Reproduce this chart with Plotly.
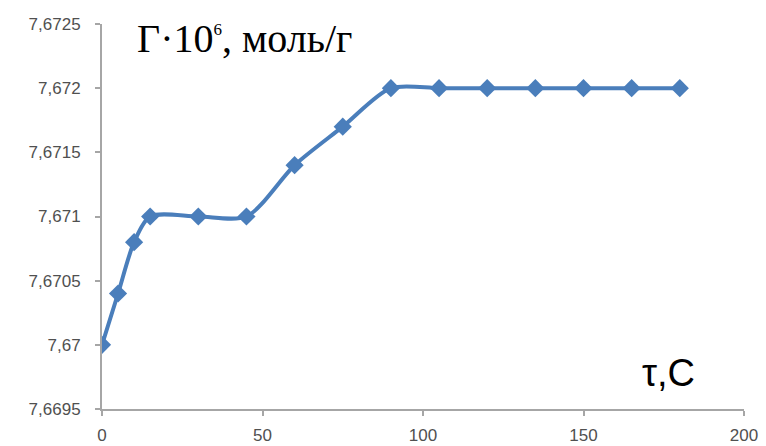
import plotly.graph_objects as go

time_s = [0, 5, 10, 15, 30, 45, 60, 75, 90, 105, 120, 135, 150, 165, 180]
gamma = [7.6700, 7.6704, 7.6708, 7.6710, 7.6710, 7.6710, 7.6714, 7.6717,
         7.6720, 7.6720, 7.6720, 7.6720, 7.6720, 7.6720, 7.6720]

y_tickvals = [7.6695, 7.6700, 7.6705, 7.6710, 7.6715, 7.6720, 7.6725]
y_ticktext = ["7,6695", "7,67", "7,6705", "7,671", "7,6715", "7,672", "7,6725"]
x_tickvals = [0, 50, 100, 150, 200]
x_ticktext = ["0", "50", "100", "150", "200"]

fig = go.Figure()
fig.add_trace(go.Scatter(
    x=time_s, y=gamma, mode="lines+markers",
    line=dict(color="#4a7ebb", width=4, shape="spline", smoothing=0.8),
    marker=dict(symbol="diamond", size=14, color="#4a7ebb"),
    showlegend=False,
))

axis_common = dict(showgrid=False, zeroline=False, showline=True, linecolor="#a6a6a6",
                   linewidth=2, ticks="outside", ticklen=5, tickcolor="#a6a6a6",
                   tickwidth=1.5, automargin=False)

fig.update_layout(
    width=766, height=446,
    margin=dict(l=102, r=22, t=24, b=37, autoexpand=False),
    paper_bgcolor="white", plot_bgcolor="white",
    separators=",.",
    font=dict(family="Liberation Sans, Arial, sans-serif", size=17, color="#505050"),
    xaxis=dict(range=[0, 200], tickvals=x_tickvals, ticktext=x_ticktext,
               ticklabelstandoff=5, **axis_common),
    yaxis=dict(range=[7.6695, 7.6725], tickvals=y_tickvals, ticktext=y_ticktext,
               ticklabelstandoff=11, **axis_common),
    annotations=[
        dict(text="Γ·10<sup><span style='font-size:17px'>6</span></sup>, моль/г",
             xref="paper", yref="paper",
             x=0.052, y=1.025, xanchor="left", yanchor="top", showarrow=False,
             font=dict(family="Liberation Serif, Times New Roman, serif", size=40, color="black")),
        dict(text="τ,С", xref="paper", yref="paper",
             x=0.838, y=0.094, xanchor="left", yanchor="middle", showarrow=False,
             font=dict(family="Liberation Sans, Arial, sans-serif", size=38, color="black")),
    ],
)

fig.write_html("out.html", config={"displayModeBar": False},
               post_script="document.body.style.margin='0';document.body.style.padding='0';")
